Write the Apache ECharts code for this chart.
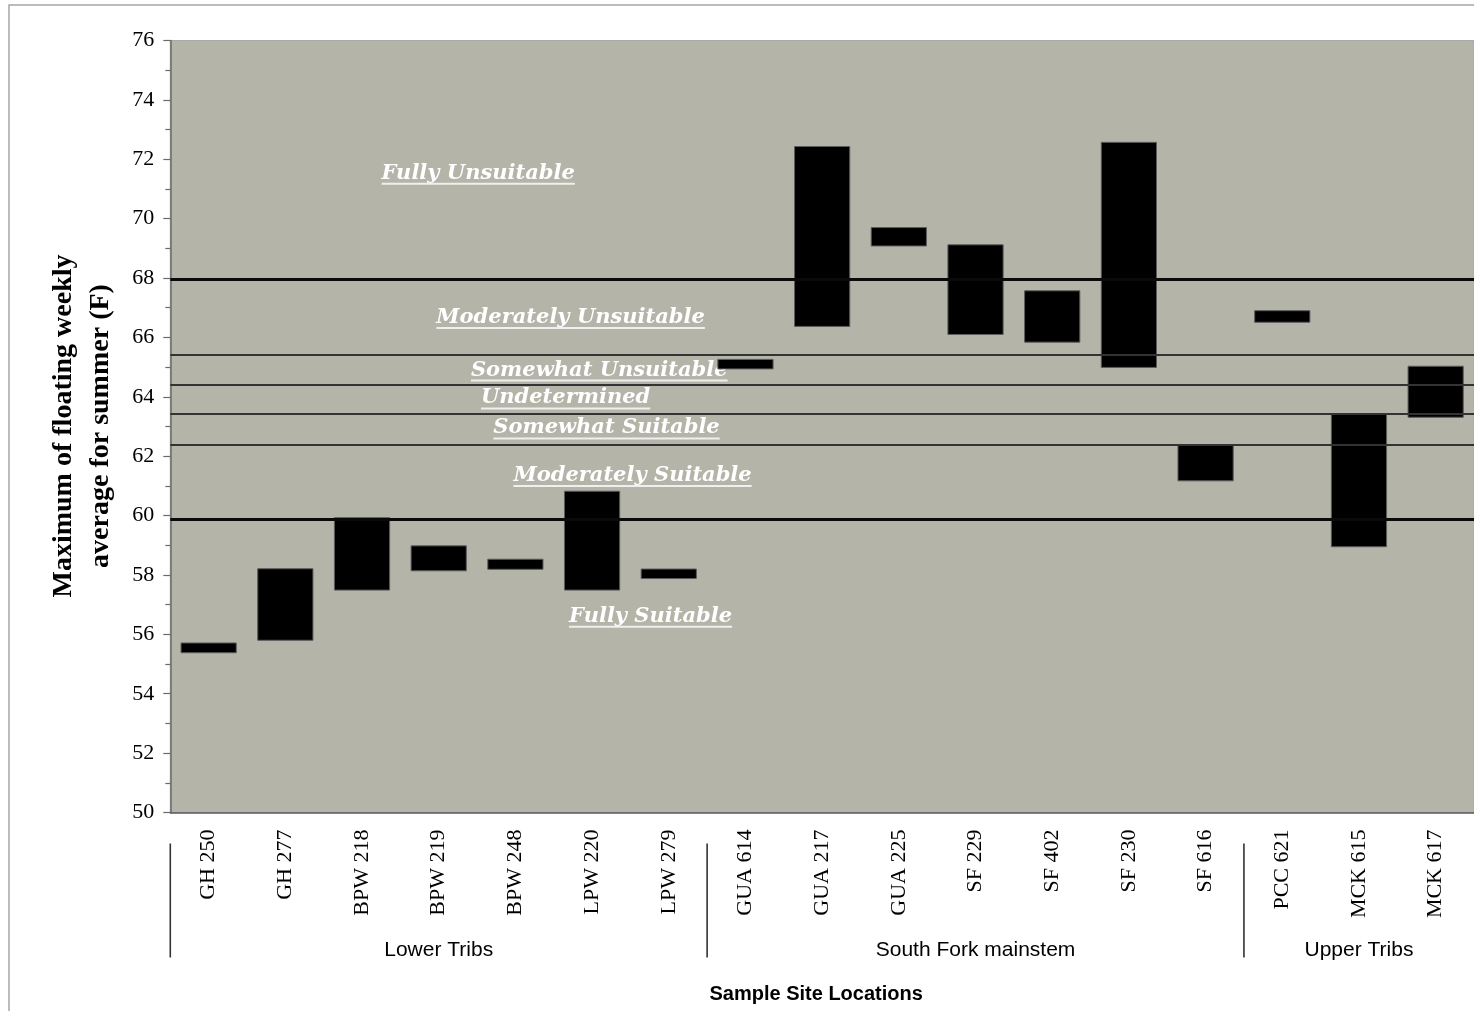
<!DOCTYPE html>
<html><head><meta charset="utf-8">
<script src="https://cdn.jsdelivr.net/npm/echarts@6/dist/echarts.min.js"></script>
<style>html,body{margin:0;padding:0;background:#fff;} #c{width:1474px;height:1011px;}</style>
</head><body><div id="c"></div>
<script>
// ---- data ----
const categories = ['GH 250','GH 277','BPW 218','BPW 219','BPW 248','LPW 220','LPW 279','GUA 614','GUA 217','GUA 225','SF 229','SF 402','SF 230','SF 616','PCC 621','MCK 615','MCK 617'];
const lowValues  = [55.38,55.80,57.49,58.14,58.19,57.49,57.88,64.94,66.37,69.08,66.10,65.84,64.99,61.17,66.51,58.95,63.31];
const highValues = [55.71,58.21,59.93,58.98,58.53,60.82,58.20,65.26,72.43,69.70,69.12,67.57,72.57,62.38,66.90,63.41,65.03];
const groupNames = ['Lower Tribs','South Fork mainstem','Upper Tribs'];
const groupSizes = [7,7,3];
const thresholdValues = [67.95, 65.43, 64.40, 63.43, 62.39, 59.87];
const zoneNames = ['Fully Unsuitable','Moderately Unsuitable','Somewhat Unsuitable','Undetermined','Somewhat Suitable','Moderately Suitable','Fully Suitable'];
const yMin = 50, yMax = 76, yStep = 2;
const yTitle = 'Maximum of floating weekly\naverage for summer (F)';
const xTitle = 'Sample Site Locations';

// ---- annotation layout (category units from left edge, value units) ----
const zoneLabelAt = [[4.015,71.53],[5.22,66.67],[5.594,64.90],[5.155,63.96],[5.688,62.95],[6.028,61.35],[6.263,56.61]];

const chart = echarts.init(document.getElementById('c'), null, {renderer:'canvas'});
const gridLeft = 170.3, gridTop = 40.5, gridBottom = 198.5;

chart.setOption({
  animation: false,
  grid: {left: gridLeft, right: 0, top: gridTop, bottom: gridBottom, show: true,
         backgroundColor: '#b5b4a9', borderColor: '#a9a9a9', borderWidth: 1},
  xAxis: {
    type: 'category', data: categories,
    axisLine: {lineStyle: {color: '#585858', width: 1.5}},
    axisTick: {length: 6, lineStyle: {color: '#7a7a7a', width: 1.2}},
    axisLabel: {rotate: 90, interval: 0, margin: 17, fontFamily: 'Liberation Serif', fontSize: 22, color: '#000'},
    splitLine: {show: false}
  },
  yAxis: {
    type: 'value', min: yMin, max: yMax, interval: yStep,
    axisLine: {show: true, lineStyle: {color: '#6b6b6b', width: 1.5}},
    axisTick: {show: true, length: 7, lineStyle: {color: '#6b6b6b', width: 1.2}},
    minorTick: {show: true, splitNumber: 2, length: 5, lineStyle: {color: '#6b6b6b', width: 1.2}},
    axisLabel: {fontFamily: 'Liberation Serif', fontSize: 22, color: '#000', margin: 16},
    splitLine: {show: false}
  },
  series: [{
    type: 'custom',
    encode: {x: 0, y: [1, 2]},
    data: categories.map((c, i) => [i, lowValues[i], highValues[i]]),
    z: 3,
    renderItem: function (params, api) {
      const xi = api.value(0);
      const lo = api.coord([xi, api.value(1)]);
      const hi = api.coord([xi, api.value(2)]);
      const w = api.size([1, 0])[0] * 0.72;
      return {type: 'rect', shape: {x: lo[0] - w / 2, y: hi[1], width: w, height: lo[1] - hi[1]},
              style: {fill: '#000', stroke: '#5c5c5c', lineWidth: 1}};
    },
    markLine: {
      silent: true, symbol: ['none', 'none'], label: {show: false}, animation: false,
      data: thresholdValues.map((v, i) => ({yAxis: v,
        lineStyle: {type: 'solid', color: (i === 0 || i === thresholdValues.length - 1) ? '#0a0a0a' : '#333',
                    width: (i === 0 || i === thresholdValues.length - 1) ? 3 : 1.8}}))
    }
  }]
});

// ---- annotations / group axis ----
const c0 = chart.convertToPixel({xAxisIndex: 0}, 0);
const c1 = chart.convertToPixel({xAxisIndex: 0}, 1);
const catW = c1 - c0;
const left0 = c0 - catW / 2;
const ctx = document.createElement('canvas').getContext('2d');
const zoneFont = 'italic bold 21px "DejaVu Serif"';
ctx.font = zoneFont;

const g = [];
g.push({type: 'rect', z: 0, shape: {x: 9, y: 5, width: 1480, height: 1030},
        style: {fill: 'none', stroke: '#a6a6a6', lineWidth: 1.5}, silent: true});

zoneNames.forEach((name, i) => {
  const x = left0 + zoneLabelAt[i][0] * catW;
  const y = chart.convertToPixel({yAxisIndex: 0}, zoneLabelAt[i][1]);
  const w = ctx.measureText(name).width;
  g.push({type: 'text', z: 1, x: x, y: y, silent: true,
          style: {text: name, font: zoneFont, fill: '#ffffff', align: 'center', verticalAlign: 'middle',
                  textAlign: 'center', textVerticalAlign: 'middle'}});
  g.push({type: 'line', z: 1, silent: true, shape: {x1: x - w / 2, y1: y + 10.5, x2: x + w / 2, y2: y + 10.5},
          style: {stroke: '#efefef', lineWidth: 2}});
});

// group separators and labels
let start = 0;
groupNames.forEach((name, i) => {
  const xs = left0 + start * catW;
  const xe = left0 + (start + groupSizes[i]) * catW;
  g.push({type: 'line', silent: true, shape: {x1: xs, y1: 843.5, x2: xs, y2: 957.5},
          style: {stroke: '#333', lineWidth: 1.6}});
  g.push({type: 'text', silent: true, x: (xs + xe) / 2, y: 950,
          style: {text: name, font: '21px "Liberation Sans"', fill: '#000', align: 'center', verticalAlign: 'middle',
                  textAlign: 'center', textVerticalAlign: 'middle'}});
  start += groupSizes[i];
});

g.push({type: 'text', silent: true, x: (gridLeft + 1474) / 2 - 6, y: 994,
        style: {text: xTitle, font: 'bold 20px "Liberation Sans"', fill: '#000', align: 'center', verticalAlign: 'middle',
                textAlign: 'center', textVerticalAlign: 'middle'}});
g.push({type: 'text', silent: true, x: 82, y: 426, rotation: Math.PI / 2,
        style: {text: yTitle, font: 'bold 28px "Liberation Serif"', lineHeight: 37, fill: '#000', align: 'center', verticalAlign: 'middle',
                textAlign: 'center', textVerticalAlign: 'middle'}});

chart.setOption({graphic: g});
</script>
</body></html>
